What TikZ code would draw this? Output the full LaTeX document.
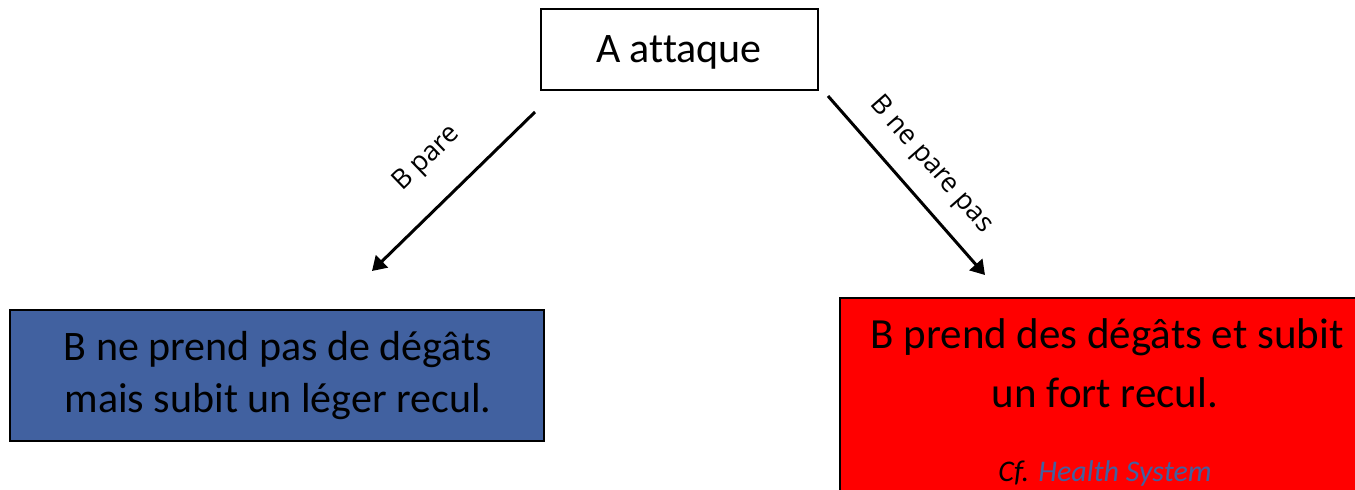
\documentclass[tikz,border=0pt]{standalone}
\usepackage{fontspec}
\setmainfont[Ligatures={NoCommon}]{Carlito}
\newfontfamily\labelfont{Open Sans}
\usetikzlibrary{arrows.meta}
\definecolor{boxblue}{RGB}{65,97,160}
\definecolor{boxred}{RGB}{255,0,0}
\tikzset{
  x=1pt, y=-1pt,
  framebox/.style={draw=black, line width=1.4pt, inner sep=0pt, outer sep=0pt},
  linetext/.style={anchor=base, inner sep=0pt, font=\fontsize{42}{49}\selectfont},
  edgelabel/.style={inner sep=0pt, font=\labelfont\fontsize{27}{30}\selectfont},
  arrowline/.style={line width=3pt, -{Triangle[length=14pt,width=17pt]}}
}
\begin{document}
\begin{tikzpicture}
\useasboundingbox (0,0) rectangle (1355,490);
% top box
\node[framebox, fill=white, minimum width=277pt, minimum height=81pt] (top) at (679.5,49.5) {};
\node[anchor=base, inner sep=0pt, font=\fontsize{42}{45}\selectfont] (toptext) at (679,62) {A attaque};
% left box
\node[framebox, fill=boxblue, minimum width=534pt, minimum height=131pt] (left) at (277,375.5) {};
\node[linetext] (lt1) at (278,360) {B ne prend pas de dégâts};
\node[linetext] (lt2) at (278,412) {mais subit un léger recul.};
% right box
\node[framebox, fill=boxred, minimum width=535pt, minimum height=202pt] (right) at (1107.5,399) {};
\node[linetext, font=\fontsize{43}{50}\selectfont] (rt1) at (1107,348) {B prend des dégâts et subit};
\node[linetext, font=\fontsize{43}{50}\selectfont] (rt2) at (1105,407) {un fort recul.};
\node[anchor=base, inner sep=0pt, font=\fontsize{30}{34}\selectfont\itshape] (rt3) at (1105,481) {Cf. \textcolor{boxblue}{Health System}};
% arrows
\coordinate (ls) at (535,112);
\coordinate (le) at (372,271);
\coordinate (rs) at (828,96);
\coordinate (re) at (985,275);
\draw[arrowline] (ls) -- (le);
\draw[arrowline] (rs) -- (re);
\node[edgelabel, rotate=44] (lbl) at (427,159) {B pare};
\node[edgelabel, rotate=-48.7] (rbl) at (931,165) {B ne pare pas};
\end{tikzpicture}
\end{document}
